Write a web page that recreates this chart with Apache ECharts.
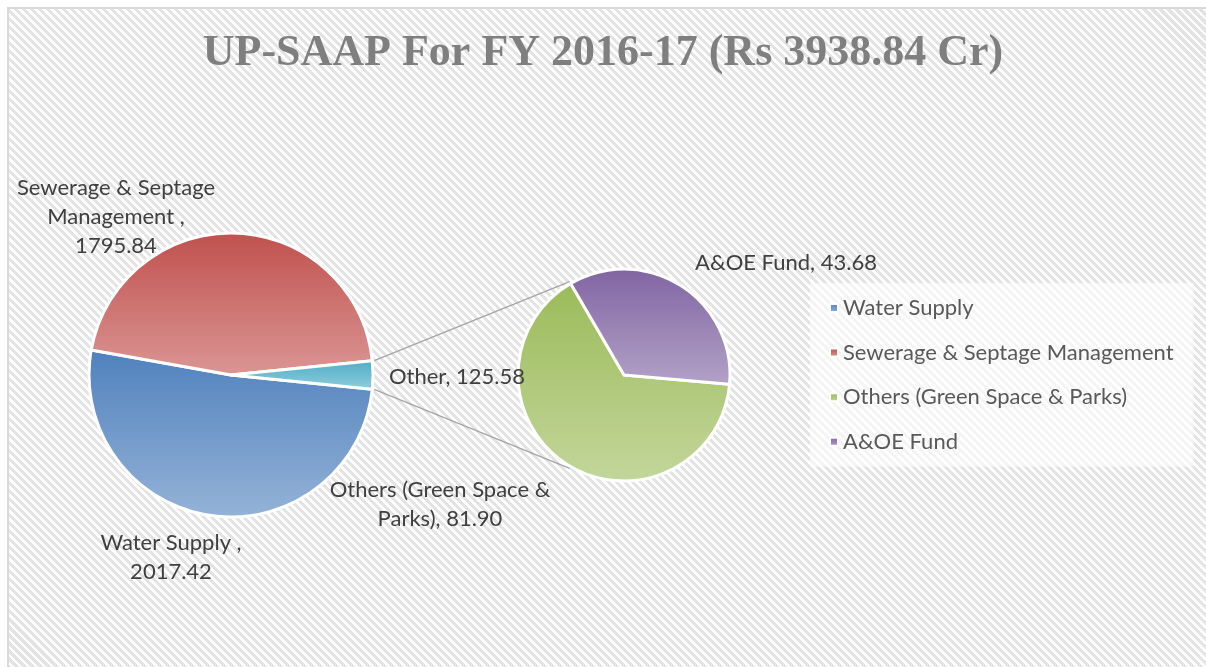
<!DOCTYPE html>
<html>
<head>
<meta charset="utf-8">
<script src="https://cdn.jsdelivr.net/npm/echarts@6/dist/echarts.min.js"></script>
<style>
  html, body { margin: 0; padding: 0; background: #fff; }
  #frame {
    position: absolute; left: 7px; top: 7px; width: 1220px; height: 680px;
    border-left: 2px solid #d9d9d9; border-top: 2px solid #d9d9d9;
    background: repeating-linear-gradient(45deg, #ffffff 0px, #ffffff 2.8px, #e3e3e3 2.8px, #e3e3e3 5.66px);
  }
  #chart { position: absolute; left: 0; top: 0; width: 1206px; height: 667px; }
</style>
</head>
<body>
<div id="frame"></div>
<div id="chart"></div>
<script>
// main pie
var mainNames = ['Water Supply', 'Sewerage & Septage Management', 'Other'];
var mainValues = [2017.42, 1795.84, 125.58];
// breakdown of "Other"
var subNames = ['Others (Green Space & Parks)', 'A&OE Fund'];
var subValues = [81.90, 43.68];
var legendNames = ['Water Supply', 'Sewerage & Septage Management', 'Others (Green Space & Parks)', 'A&OE Fund'];

var labelPrefix = {
  'Water Supply': 'Water Supply ,\n',
  'Sewerage & Septage Management': 'Sewerage & Septage\nManagement ,\n',
  'Other': 'Other, ',
  'Others (Green Space & Parks)': 'Others (Green Space &\nParks), ',
  'A&OE Fund': 'A&OE Fund, '
};
var labelAnchor = {
  'Water Supply': [171, 557],
  'Sewerage & Septage Management': [116, 217],
  'Other': [457, 377],
  'Others (Green Space & Parks)': [440, 504],
  'A&OE Fund': [786, 263]
};
var colors = {
  'Water Supply': ['#4f81bd', '#95b3d7'],
  'Sewerage & Septage Management': ['#c0504d', '#da9694'],
  'Other': ['#4bacc6', '#93cddd'],
  'Others (Green Space & Parks)': ['#9bbb59', '#c3d69b'],
  'A&OE Fund': ['#8064a2', '#b3a2c7']
};

var chart = echarts.init(document.getElementById('chart'));

var c1 = [231, 375], r1 = 142;
var c2 = [624, 375], r2 = 106;

function grad(name) {
  return new echarts.graphic.LinearGradient(0, 0, 0, 1, [
    { offset: 0, color: colors[name][0] },
    { offset: 1, color: colors[name][1] }
  ]);
}

function toData(names, values) {
  return names.map(function (n, i) {
    return { name: n, value: values[i], itemStyle: { color: grad(n) } };
  });
}

var mainSum = mainValues.reduce(function (a, b) { return a + b; }, 0);
var otherHalf = mainValues[2] / mainSum * 180;
var subStart = 355;
var subSum = subValues[0] + subValues[1];
var subSplit = subStart - subValues[0] / subSum * 360; // boundary angle green/purple

function pt(c, r, deg) {
  var a = deg * Math.PI / 180;
  return [c[0] + r * Math.cos(a), c[1] - r * Math.sin(a)];
}

var labelOpt = {
  show: true,
  position: 'outside',
  formatter: function (p) { return labelPrefix[p.name] + p.value.toFixed(2); },
  fontFamily: 'Lato',
  fontSize: 22,
  lineHeight: 29,
  color: '#404040',
  align: 'center'
};

function layoutLabel(p) {
  var name = (p.seriesIndex === 0 ? mainNames : subNames)[p.dataIndex];
  var a = labelAnchor[name];
  return { x: a[0], y: a[1], align: 'center', verticalAlign: 'middle' };
}

var option = {
  animation: false,
  title: {
    text: 'UP-SAAP For FY 2016-17 (Rs 3938.84 Cr)',
    left: 'center',
    top: 27,
    textStyle: {
      fontFamily: 'Liberation Serif',
      fontWeight: 'bold',
      fontSize: 44,
      color: '#7f7f7f'
    }
  },
  legend: {
    data: legendNames,
    orient: 'vertical',
    left: 810,
    top: 283,
    padding: [14, 20, 14, 19],
    backgroundColor: 'rgba(255,255,255,0.6)',
    itemWidth: 8,
    itemHeight: 8,
    itemGap: 22.6,
    icon: 'rect',
    textStyle: { fontFamily: 'Lato', fontSize: 22, lineHeight: 22, color: '#595959' }
  },
  series: [
    {
      type: 'pie',
      center: c1,
      radius: r1,
      startAngle: -otherHalf,
      clockwise: true,
      silent: true,
      avoidLabelOverlap: false,
      itemStyle: { borderColor: '#fff', borderWidth: 3 },
      label: labelOpt,
      labelLine: { show: false },
      labelLayout: layoutLabel,
      data: toData(mainNames, mainValues)
    },
    {
      type: 'pie',
      center: c2,
      radius: r2,
      startAngle: subStart,
      clockwise: true,
      silent: true,
      avoidLabelOverlap: false,
      itemStyle: { borderColor: '#fff', borderWidth: 3 },
      label: labelOpt,
      labelLine: { show: false },
      labelLayout: layoutLabel,
      data: toData(subNames, subValues)
    }
  ],
  graphic: [
    {
      type: 'line',
      silent: true,
      shape: (function () {
        var a = pt(c1, r1 + 2, otherHalf), b = pt(c2, r2 + 2, subSplit);
        return { x1: a[0], y1: a[1], x2: b[0], y2: b[1] };
      })(),
      style: { stroke: '#a6a6a6', lineWidth: 1.5 }
    },
    {
      type: 'line',
      silent: true,
      shape: (function () {
        var a = pt(c1, r1 + 2, -otherHalf), b = pt(c2, r2 + 2, -subSplit);
        return { x1: a[0], y1: a[1], x2: b[0], y2: b[1] };
      })(),
      style: { stroke: '#a6a6a6', lineWidth: 1.5 }
    }
  ]
};

chart.setOption(option);
</script>
</body>
</html>
